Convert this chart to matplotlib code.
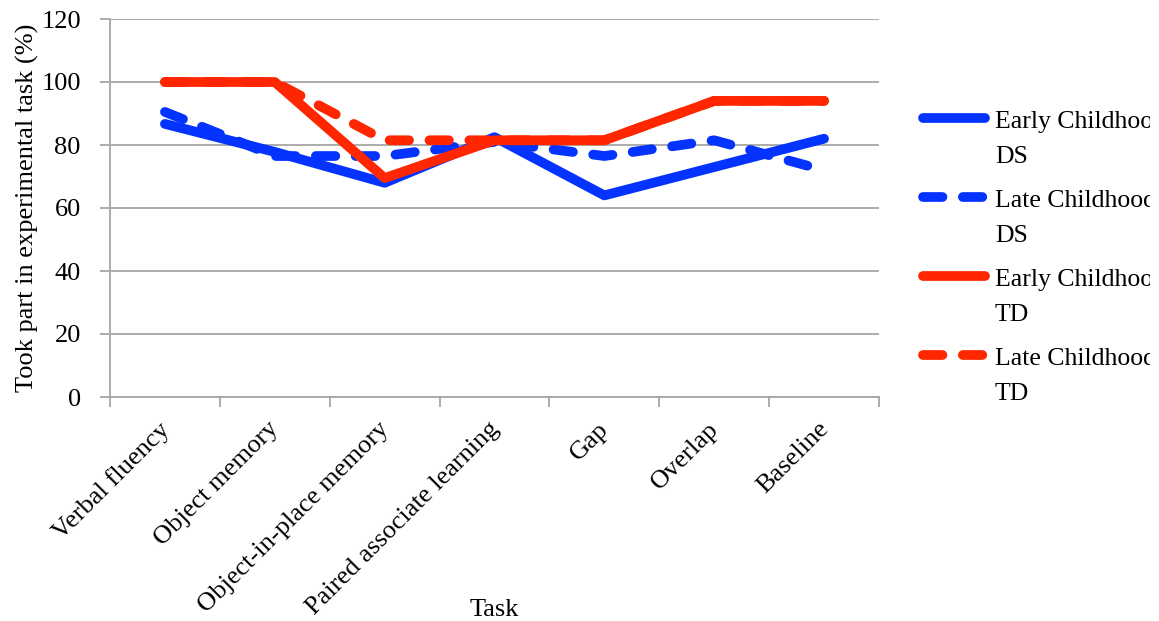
import matplotlib
matplotlib.use('Agg')
import matplotlib.pyplot as plt
from matplotlib.lines import Line2D
from matplotlib.transforms import Bbox, TransformedBbox, ScaledTranslation

tasks = ['Verbal fluency', 'Object memory', 'Object-in-place memory',
         'Paired associate learning', 'Gap', 'Overlap', 'Baseline']
early_ds = [86.7, 77.8, 68.0, 82.5, 64.0, 73.0, 82.0]
late_ds = [90.5, 76.5, 76.5, 81.0, 76.5, 81.5, 72.0]
early_td = [100, 100, 69.5, 81.5, 81.5, 94.0, 94.0]
late_td = [100, 100, 81.5, 81.5, 81.5, 94.0, 94.0]
groups = [('Early Childhood', 'DS'), ('Late Childhood', 'DS'),
          ('Early Childhood', 'TD'), ('Late Childhood', 'TD')]

blue = '#0433ff'
red = '#ff2600'
grey = '#a6a6a6'

plt.rcParams['font.family'] = ['Liberation Serif', 'DejaVu Serif']
plt.rcParams['font.size'] = 19

W, H = 1159, 621
fig = plt.figure(figsize=(W / 100, H / 100), dpi=100)
ax = fig.add_axes([110 / W, 1 - 397 / H, 769 / W, 378 / H])

x = list(range(len(tasks)))
lw = 7
dash = (2.0, 2.1)
series = [(early_ds, blue, False), (late_ds, blue, True),
          (early_td, red, False), (late_td, red, True)]
styles = []
for vals, col, dashed in series:
    kw = dict(color=col, lw=lw, solid_capstyle='round', solid_joinstyle='round',
              dash_capstyle='round', dash_joinstyle='round')
    if dashed:
        kw['dashes'] = dash
    ax.plot(x, vals, **kw)
    styles.append(kw)

ax.set_xlim(-0.5, len(tasks) - 0.5)
ax.set_ylim(0, 120)
ax.set_yticks(range(0, 121, 20))
ax.yaxis.grid(True, color=grey, lw=1.3)
ax.set_axisbelow(True)

# ticks sit on the category boundaries, labels at the centres
ax.set_xticks([i - 0.5 for i in range(len(tasks) + 1)])
ax.set_xticklabels([])
ax.tick_params(axis='x', length=7, color=grey, width=1.3)
ax.tick_params(axis='y', length=7, color=grey, width=1.3, pad=14)

offset = ScaledTranslation(-7 / 100, -21 / 100, fig.dpi_scale_trans)
for i, name in zip(x, tasks):
    ax.text(i, 0, name, transform=ax.get_xaxis_transform() + offset,
            rotation=45, ha='right', va='top', rotation_mode='anchor')

for s in ['top', 'right']:
    ax.spines[s].set_visible(False)
for s in ['left', 'bottom']:
    ax.spines[s].set_color(grey)
    ax.spines[s].set_linewidth(1.3)

ax.set_ylabel('Took part in experimental task (%)')
ax.yaxis.set_label_coords(-0.092, 0.5)
ax.set_xlabel('Task')
ax.xaxis.set_label_coords(0.5, -0.535)

# legend: handle on the first line, group on the second
clip = TransformedBbox(Bbox([[0, 0], [1150 / W, 1]]), fig.transFigure)
for i, ((age, grp), kw) in enumerate(zip(groups, styles)):
    yc = 118 + 79 * i
    fig.add_artist(Line2D([923 / W, 985 / W], [1 - yc / H, 1 - yc / H],
                          transform=fig.transFigure, **kw))
    for txt, dy in [(age, 10), (grp, 45)]:
        t = fig.text(995 / W, 1 - (yc + dy) / H, txt, fontsize=18.5, va='baseline')
        t.set_clip_on(True)
        t.set_clip_box(clip)

fig.savefig('out.png', dpi=100)
